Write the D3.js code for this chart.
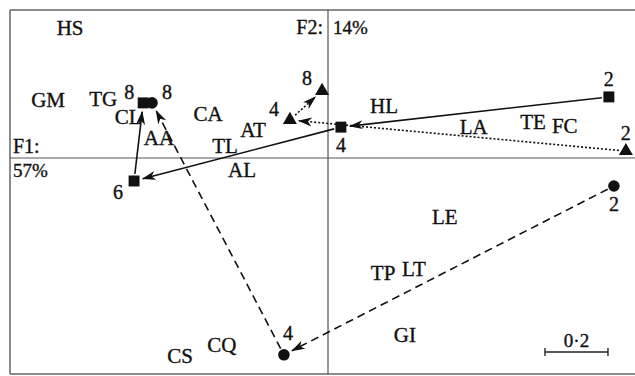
<!DOCTYPE html>
<html><head><meta charset="utf-8">
<script src="https://cdn.jsdelivr.net/npm/d3@7"></script>
<style>body{margin:0;background:#fff}svg{display:block}text{font-family:"Liberation Serif","DejaVu Serif",serif;fill:#111;stroke:#111;stroke-width:0.35px}</style>
</head><body><svg id="c" width="635" height="376"></svg>
<script>
// Species scores (F1, F2)
const speciesNames = ["HS","GM","TG","CL","AA","CA","AT","TL","AL","HL","LA","TE","FC","LE","TP","LT","GI","CS","CQ"];
const speciesF1 = [-0.819,-0.889,-0.714,-0.635,-0.537,-0.381,-0.238,-0.327,-0.273,0.178,0.463,0.651,0.752,0.371,0.175,0.273,0.244,-0.470,-0.337];
const speciesF2 = [0.413,0.184,0.187,0.130,0.063,0.140,0.089,0.038,-0.038,0.165,0.098,0.114,0.102,-0.187,-0.365,-0.352,-0.562,-0.629,-0.594];

// Trajectories (sample times)
const squareTimes = ["2","4","6","8"];
const squareF1 = [0.892,0.041,-0.616,-0.587];
const squareF2 = [0.194,0.098,-0.073,0.175];
const triangleTimes = ["2","4","8"];
const triangleF1 = [0.946,-0.121,-0.019];
const triangleF2 = [0.022,0.121,0.213];
const circleTimes = ["2","4","8"];
const circleF1 = [0.908,-0.140,-0.559];
const circleF2 = [-0.089,-0.625,0.175];

const axisLabelsF1 = ["F1:","57%"];
const axisLabelsF2 = ["F2:","14%"];
const scaleBarValue = 0.2;
const scaleBarLabel = "0·2";

const svg = d3.select("#c");
const x = d3.scaleLinear().domain([-1.01, 0.975]).range([10, 635]);
const y = d3.scaleLinear().domain([-0.686, 0.47]).range([374, 10]);

// frame
const frame = svg.append("g").attr("stroke","#666").attr("stroke-width",1.5);
frame.append("line").attr("x1",10).attr("x2",635).attr("y1",10).attr("y2",10);
frame.append("line").attr("x1",10).attr("x2",10).attr("y1",10).attr("y2",374);
frame.append("line").attr("x1",10).attr("x2",635).attr("y1",374).attr("y2",374);

// axes through origin
svg.append("line").attr("x1",10).attr("x2",635).attr("y1",y(0)).attr("y2",y(0)).attr("stroke","#555").attr("stroke-width",1.2);
svg.append("line").attr("x1",x(0)).attr("x2",x(0)).attr("y1",10).attr("y2",374).attr("stroke","#555").attr("stroke-width",1.2);

// axis labels
svg.append("text").attr("x",13).attr("y",y(0)-5).attr("font-size",20).text(axisLabelsF1[0]);
svg.append("text").attr("x",13).attr("y",y(0)+19).attr("font-size",19).text(axisLabelsF1[1]);
svg.append("text").attr("x",x(0)-5).attr("y",34).attr("font-size",20).attr("text-anchor","end").text(axisLabelsF2[0]);
svg.append("text").attr("x",x(0)+5).attr("y",34).attr("font-size",19).text(axisLabelsF2[1]);

// species labels
svg.append("g").selectAll("text").data(speciesNames).join("text")
  .attr("x",(d,i)=>x(speciesF1[i])).attr("y",(d,i)=>y(speciesF2[i]))
  .attr("text-anchor","middle").attr("dominant-baseline","central")
  .attr("font-size",21).text(d=>d);

// arrow marker
const defs = svg.append("defs");
defs.append("marker").attr("id","arr").attr("viewBox","0 0 14 10")
  .attr("refX",13).attr("refY",5).attr("markerWidth",14).attr("markerHeight",10)
  .attr("markerUnits","userSpaceOnUse").attr("orient","auto")
  .append("path").attr("d","M0,0.5 L14,5 L0,9.5 L4,5 Z").attr("fill","#111");

function trajectory(f1, f2, dash, order){
  for(let k=0;k<order.length-1;k++){
    const a=order[k], b=order[k+1];
    const x1=x(f1[a]), y1=y(f2[a]), x2=x(f1[b]), y2=y(f2[b]);
    const dx=x2-x1, dy=y2-y1, L=Math.hypot(dx,dy);
    const s0=7, s1=9;
    svg.append("line")
      .attr("x1",x1+dx*s0/L).attr("y1",y1+dy*s0/L)
      .attr("x2",x2-dx*s1/L).attr("y2",y2-dy*s1/L)
      .attr("stroke","#111").attr("stroke-width",1.6)
      .attr("stroke-dasharray",dash==="dot"?"2,2":(dash==="dash"?"8,5":null))
      .attr("marker-end","url(#arr)");
  }
}
trajectory(squareF1,squareF2,"solid",[0,1,2,3]);
trajectory(triangleF1,triangleF2,"dot",[0,1,2]);
trajectory(circleF1,circleF2,"dash",[0,1,2]);

// symbols
svg.append("g").selectAll("path").data(squareTimes).join("path")
  .attr("d",d3.symbol(d3.symbolSquare,120))
  .attr("transform",(d,i)=>`translate(${x(squareF1[i])},${y(squareF2[i])})`).attr("fill","#111");
svg.append("g").selectAll("path").data(triangleTimes).join("path")
  .attr("d",d3.symbol(d3.symbolTriangle,85))
  .attr("transform",(d,i)=>`translate(${x(triangleF1[i])},${y(triangleF2[i])})`).attr("fill","#111");
svg.append("g").selectAll("path").data(circleTimes).join("path")
  .attr("d",d3.symbol(d3.symbolCircle,105))
  .attr("transform",(d,i)=>`translate(${x(circleF1[i])},${y(circleF2[i])})`).attr("fill","#111");

// time labels (offsets per point)
const sqOff=[[0,-18],[0,18],[-16,11],[-14,-11]];
const trOff=[[0,-18],[-16,-11],[-15,-13]];
const ciOff=[[0,18],[4,-22],[15,-11]];
function timeLabels(times,f1,f2,off){
  svg.append("g").selectAll("text").data(times).join("text")
    .attr("x",(d,i)=>x(f1[i])+off[i][0]).attr("y",(d,i)=>y(f2[i])+off[i][1])
    .attr("text-anchor","middle").attr("dominant-baseline","central")
    .attr("font-size",20).text(d=>d);
}
timeLabels(squareTimes,squareF1,squareF2,sqOff);
timeLabels(triangleTimes,triangleF1,triangleF2,trOff);
timeLabels(circleTimes,circleF1,circleF2,ciOff);

// scale bar
const sbx0=545, sby=352;
const sbw = x(scaleBarValue)-x(0);
const sb = svg.append("g").attr("stroke","#222").attr("stroke-width",1.4);
sb.append("line").attr("x1",sbx0).attr("x2",sbx0+sbw).attr("y1",sby).attr("y2",sby);
sb.append("line").attr("x1",sbx0).attr("x2",sbx0).attr("y1",sby-4).attr("y2",sby+4);
sb.append("line").attr("x1",sbx0+sbw).attr("x2",sbx0+sbw).attr("y1",sby-4).attr("y2",sby+4);
svg.append("text").attr("x",sbx0+sbw/2).attr("y",sby-5).attr("text-anchor","middle").attr("font-size",19).text(scaleBarLabel);
</script></body></html>
